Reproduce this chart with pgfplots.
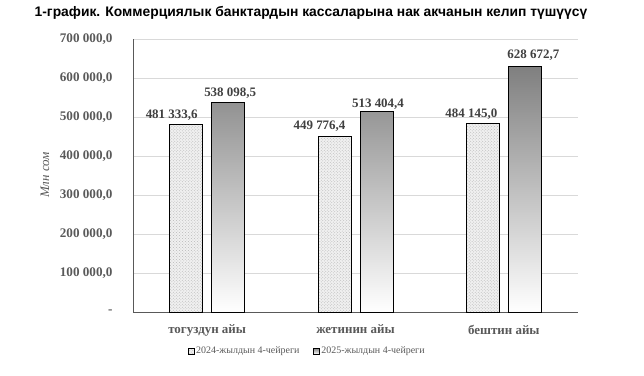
\documentclass[border=0pt]{standalone}
\usepackage{fontspec}
\setmainfont{Liberation Serif}
\newfontfamily\titlefont{Liberation Sans}
\usepackage{pgfplots}
\usepackage{pgfplotstable}
\pgfplotsset{compat=1.18}
\usetikzlibrary{patterns}

\pgfplotstableread{
x y dx dy
0 481333.6 -14.5 0
1 449776.4 -15 2
2 484145.0 -11.5 0
}\seriesA
\pgfplotstableread{
x y dx dy
0 538098.5 2 0
1 513404.4 1.5 -1
2 628672.7 8.5 3
}\seriesB

\definecolor{tickgray}{HTML}{595959}
\definecolor{gridgray}{HTML}{D9D9D9}
\definecolor{labelgray}{HTML}{404040}

\begin{document}
\begin{tikzpicture}
\useasboundingbox (0,0) rectangle (644bp,376bp);
\node[font=\titlefont\bfseries\fontsize{13.9}{16}\selectfont] at (311bp,363bp) {1-график. Коммерциялык банктардын кассаларына нак акчанын келип түшүүсү};
\node[rotate=90, font=\itshape\fontsize{13}{15}\selectfont, text=tickgray] at (45bp,201bp) {Млн сом};
\begin{axis}[
  at={(133bp,64bp)}, anchor=south west, scale only axis,
  width=445bp, height=273bp,
  ymin=0, ymax=700000, xmin=-0.5, xmax=2.5,
  scaled y ticks=false,
  ybar=9bp, bar width=33bp,
  axis x line*=bottom, axis y line*=left,
  axis line style={draw=tickgray, line width=0.8pt},
  ytick={0,100000,200000,300000,400000,500000,600000,700000},
  yticklabels={{-},{100 000,0},{200 000,0},{300 000,0},{400 000,0},{500 000,0},{600 000,0},{700 000,0}},
  ymajorgrids, grid style={draw=gridgray, line width=0.8pt},
  major y tick style={draw=none},
  yticklabel style={font=\bfseries\fontsize{13.2}{15}\selectfont, text=tickgray, xshift=-17bp},
  xtick={0,1,2},
  xticklabels={тогуздун айы, жетинин айы, бештин айы},
  major x tick style={draw=none},
  extra x ticks={-0.5,0.5,1.5,2.5},
  extra x tick labels={},
  extra x tick style={major tick length=4bp, tick style={draw=tickgray, line width=0.8pt}, tick align=outside, grid=none},
  xticklabel style={font=\bfseries\fontsize{13}{15}\selectfont, text=tickgray, yshift=-5bp},
  nodes near coords={\pgfmathprintnumber[fixed, fixed zerofill, precision=1, use comma, 1000 sep={\ }, assume math mode=true]{\pgfplotspointmeta}},
  point meta=y,
  visualization depends on={\thisrow{dx} \as \dx},
  visualization depends on={\thisrow{dy} \as \dy},
  nodes near coords style={font=\bfseries\fontsize{13}{15}\selectfont, text=labelgray, xshift=\dx bp, yshift=\dy bp, anchor=south, inner sep=3bp},
  legend style={at={(rel axis cs:0.391,-0.143)}, anchor=center, draw=none, fill=none,
    legend columns=2, font=\fontsize{10}{12}\selectfont, text=tickgray,
    /tikz/every even column/.append style={column sep=12bp},
    nodes={inner xsep=1.5bp}},
  legend image code/.code={\draw[#1, line width=0.9pt] (0bp,-3bp) rectangle (6bp,3bp);},
  legend cell align=left,
  clip=false,
]
\addplot[draw=black, line width=0.9pt, fill=gray!12, postaction={pattern=crosshatch dots, pattern color=gray!55}]
  table[x=x, y=y] {\seriesA};
\addplot[draw=black, line width=0.9pt, top color=black!50, bottom color=white]
  table[x=x, y=y] {\seriesB};
\legend{2024-жылдын 4-чейреги, 2025-жылдын 4-чейреги}
\end{axis}
\end{tikzpicture}
\end{document}
